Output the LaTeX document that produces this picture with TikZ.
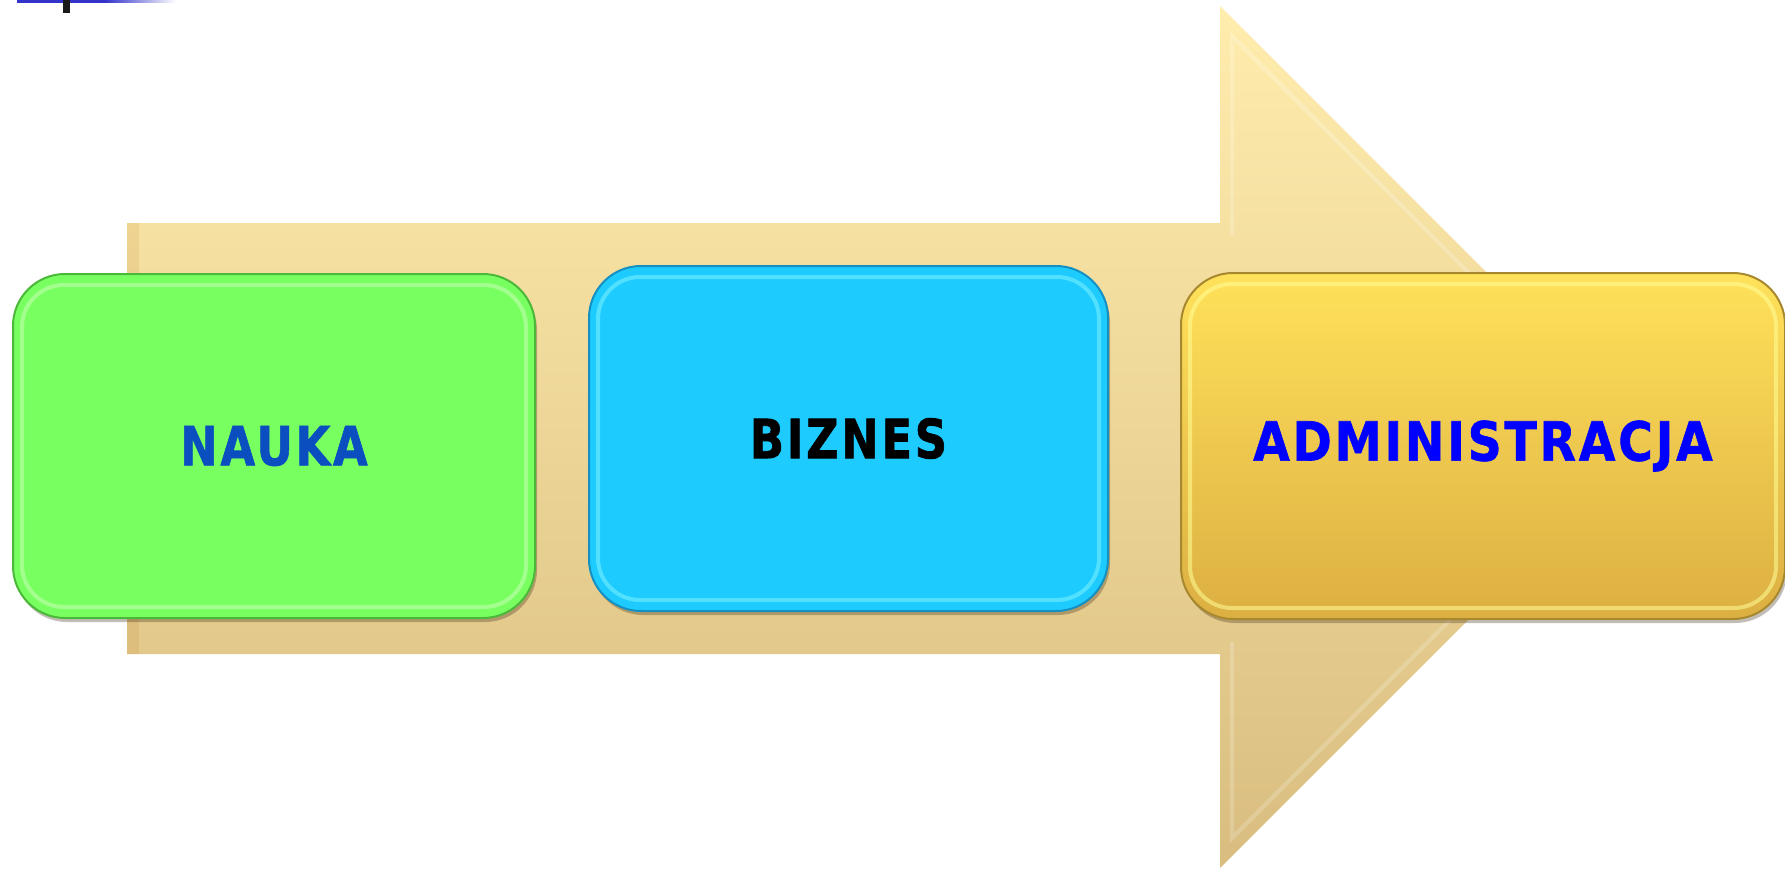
\documentclass[tikz,border=0pt]{standalone}
\usepackage{fontspec}
\usepackage{graphicx}
\setmainfont{DejaVu Sans}
\newfontfamily\lblfont[FakeBold=1.3, LetterSpace=6]{DejaVu Sans Bold}
\usetikzlibrary{shadows}
\definecolor{arrtop}{HTML}{FFEDAE}
\definecolor{arrbot}{HTML}{D9BD80}
\definecolor{grfill}{HTML}{78FF60}
\definecolor{grline}{HTML}{4CB83A}
\definecolor{grhl}{HTML}{C8FFB4}
\definecolor{blfill}{HTML}{1ECBFF}
\definecolor{blline}{HTML}{1590C2}
\definecolor{blhl}{HTML}{7CF4FF}
\definecolor{yetop}{HTML}{FFE15A}
\definecolor{yebot}{HTML}{DCAF42}
\definecolor{yeline}{HTML}{A8882E}
\definecolor{yehl}{HTML}{FFFF96}
\definecolor{naukatxt}{HTML}{0A4EC0}
\definecolor{bartop}{HTML}{3434CC}
\begin{document}
\begin{tikzpicture}[x=1pt,y=-1pt,
  box/.style={rounded corners=52pt, line width=2pt, minimum width=#1, inner sep=0pt,
    drop shadow={shadow xshift=2pt, shadow yshift=-4pt, opacity=0.3, fill=black!70!brown}},
  hl/.style={rounded corners=42pt, line width=4pt},
  lbl/.style={font=\lblfont\fontsize{54}{60}\selectfont, inner sep=0pt}]
\useasboundingbox (0,0) rectangle (1785,869);
% top-left fragments
\fill[bartop] (17,0) rectangle (106,3);
\shade[left color=bartop, right color=white] (105,0) rectangle (176,3);
\fill[black!90] (63,0) rectangle (70,13);
% big arrow
\shade[top color=arrtop, bottom color=arrbot]
  (127,223) -- (1220,223) -- (1220,6) -- (1651,437) -- (1220,868) -- (1220,654) -- (127,654) -- cycle;
\draw[white, opacity=0.2, line width=4pt]
  (1232,235) -- (1232,36) -- (1633,437) -- (1232,838) -- (1232,642);
\fill[black!30!orange, opacity=0.1] (127,223) rectangle (139,654);
% boxes
\node[box=522pt, minimum height=344pt, fill=grfill, draw=grline] (nauka) at (274,446) {};
\node[box=519pt, minimum height=345pt, fill=blfill, draw=blline] (biznes) at (848.5,438.5) {};
\node[box=604pt, minimum height=346pt, top color=yetop, bottom color=yebot, draw=yeline] (admin) at (1483,446) {};
% highlights
\draw[hl, draw=grhl, opacity=0.55] ([shift={(10,12)}]nauka.north west) rectangle ([shift={(-10,-12)}]nauka.south east);
\draw[hl, draw=blhl, opacity=0.55] ([shift={(10,12)}]biznes.north west) rectangle ([shift={(-10,-12)}]biznes.south east);
\draw[hl, draw=yehl, opacity=0.55] ([shift={(10,12)}]admin.north west) rectangle ([shift={(-10,-12)}]admin.south east);
% labels
\node[lbl, text=naukatxt] (t1) at (nauka.center) {\scalebox{0.83}[1]{NAUKA}};
\node[lbl, text=black] (t2) at (biznes.center) {\scalebox{0.83}[1]{BIZNES}};
\node[lbl, text=blue] (t3) at (admin.center) {\scalebox{0.875}[1]{ADMINISTRACJA}};
\end{tikzpicture}
\end{document}
